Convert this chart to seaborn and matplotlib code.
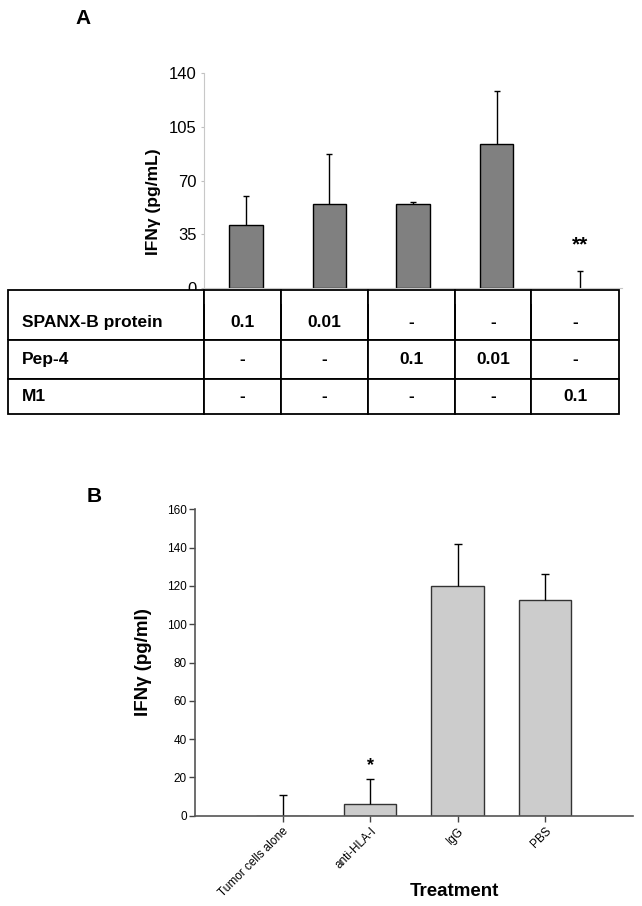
import numpy as np
import matplotlib
matplotlib.use("Agg")
import matplotlib.pyplot as plt
import seaborn as sns

# panel A data
a_groups = ["SPANX-B 0.1", "SPANX-B 0.01", "Pep-4 0.1", "Pep-4 0.01", "M1 0.1"]
a_means = [41, 55, 55, 93.5, 0]
a_sd = [19, 32, 1, 35, 11]
a_yticks = [0, 35, 70, 105, 140]

# table under panel A
row_names = ["SPANX-B protein", "Pep-4", "M1"]
row_spanx = ["0.1", "0.01", "-", "-", "-"]
row_pep4 = ["-", "-", "0.1", "0.01", "-"]
row_m1 = ["-", "-", "-", "-", "0.1"]

# panel B data
b_groups = ["Tumor cells alone", "anti-HLA-I", "IgG", "PBS"]
b_means = [0, 6, 120, 112.5]
b_sd = [11, 13, 22, 13.5]
b_yticks = [0, 20, 40, 60, 80, 100, 120, 140, 160]

sns.set_style("white")
plt.rcParams["font.family"] = ["Liberation Sans", "DejaVu Sans"]
plt.rcParams["text.color"] = "black"
plt.rcParams["axes.labelcolor"] = "black"
plt.rcParams["xtick.color"] = "black"
plt.rcParams["ytick.color"] = "black"

W, H = 642, 906
fig = plt.figure(figsize=(W / 100, H / 100), dpi=100)


def px_axes(left, top, right, bottom):
    return fig.add_axes([left / W, 1 - bottom / H, (right - left) / W, (bottom - top) / H])


def up_errors(ax, xs, means, sd, capsize):
    eb = ax.errorbar(xs, means, yerr=[np.zeros(len(sd)), sd], fmt="none",
                     ecolor="black", elinewidth=1, capsize=capsize, capthick=1)
    eb[1][0].set_visible(False)  # hide lower caps


# ---------- panel A ----------
ax = px_axes(204, 73, 622, 288)
sns.barplot(x=a_groups, y=a_means, color="#808080", width=0.4,
            edgecolor="black", linewidth=1, saturation=1, ax=ax)
for p in ax.patches:
    if p.get_height() == 0:
        p.set_edgecolor("none")
xs = [p.get_x() + p.get_width() / 2 for p in ax.patches]
up_errors(ax, xs, a_means, a_sd, 2.2)
ax.text(xs[4], 28, "**", ha="center", va="center", fontsize=15, fontweight="bold")

ax.set_ylim(0, 140)
ax.set_xlim(-0.5, 4.5)
ax.set_yticks(a_yticks)
ax.tick_params(axis="y", left=True, length=2.5, width=0.8, color="#c0c0c0",
               labelcolor="black", labelsize=12, pad=3)
ax.tick_params(axis="x", bottom=False, labelbottom=False)
ax.set_xlabel("")
ax.set_ylabel("IFNγ (pg/mL)", fontsize=12.5, fontweight="bold")
ax.yaxis.set_label_coords(-0.104, 0.40)
for s in ["top", "right"]:
    ax.spines[s].set_visible(False)
for s in ["left", "bottom"]:
    ax.spines[s].set_color("#c8c8c8")
    ax.spines[s].set_linewidth(0.8)

fig.text(83 / W, 1 - 18 / H, "A", fontsize=15, fontweight="bold", ha="center", va="center")

# ---------- table ----------
tax = px_axes(8, 290, 619, 414)
tax.axis("off")
cell_rows = [[""] * 6,
             [row_names[0]] + row_spanx,
             [row_names[1]] + row_pep4,
             [row_names[2]] + row_m1]
col_w = [196, 76.6, 87.3, 86.9, 76.2, 88]
row_h = [14, 36.3, 38.7, 35]
tbl = tax.table(cellText=cell_rows, colWidths=[c / sum(col_w) for c in col_w],
                cellLoc="center", bbox=[0, 0, 1, 1])
tbl.auto_set_font_size(False)
tbl.set_fontsize(12.5)
for (r, c), cell in tbl.get_celld().items():
    cell.set_height(row_h[r] / sum(row_h))
    cell.set_linewidth(1.3)
    cell.set_edgecolor("black")
    cell.get_text().set_fontweight("bold")
    cell.get_text().set_color("black")
    if r == 0:
        cell.visible_edges = "LRT"
    elif r == 1:
        cell.visible_edges = "LRB"
    if c == 0:
        cell.get_text().set_ha("left")
        cell.PAD = 0.07

# ---------- panel B ----------
bx = px_axes(195, 509.3, 632.7, 815.7)
sns.barplot(x=b_groups, y=b_means, color="#cccccc", width=0.6,
            edgecolor="#333333", linewidth=1, saturation=1, ax=bx)
xs_b = [p.get_x() + p.get_width() / 2 for p in bx.patches]
up_errors(bx, xs_b, b_means, b_sd, 3.2)
bx.text(xs_b[1], 26, "*", ha="center", va="center", fontsize=13, fontweight="bold")

bx.set_ylim(0, 160)
bx.set_xlim(-1, 4)
bx.set_yticks(b_yticks)
bx.tick_params(axis="y", left=True, length=4, width=1, color="#444444",
               labelcolor="black", labelsize=8.5, pad=2)
bx.tick_params(axis="x", bottom=True, length=4, width=1, color="#444444",
               labelcolor="black", labelsize=8.5, pad=3)
plt.setp(bx.get_xticklabels(), rotation=45, ha="right", rotation_mode="anchor")
bx.set_ylabel("IFNγ (pg/ml)", fontsize=13.5, fontweight="bold")
bx.yaxis.set_label_coords(-0.098, 0.5)
bx.set_xlabel("Treatment", fontsize=13.5, fontweight="bold")
bx.xaxis.set_label_coords(0.592, -0.22)
for s in ["top", "right"]:
    bx.spines[s].set_visible(False)
for s in ["left", "bottom"]:
    bx.spines[s].set_color("#555555")
    bx.spines[s].set_linewidth(1.2)

fig.text(94 / W, 1 - 497 / H, "B", fontsize=15, fontweight="bold", ha="center", va="center")

fig.savefig("out.png", dpi=100)
